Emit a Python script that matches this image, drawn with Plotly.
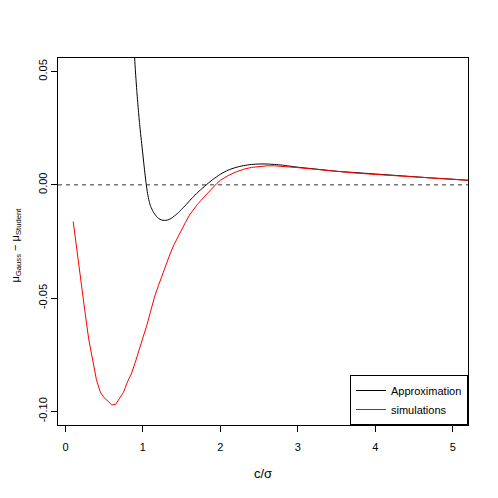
import plotly.graph_objects as go

# Approximation curve (black)
approx_x = [0.86, 0.88, 0.90, 0.92, 0.94, 0.96, 0.98, 1.00, 1.02, 1.04, 1.06, 1.08, 1.10,
            1.13, 1.16, 1.20, 1.24, 1.28, 1.32, 1.36, 1.40, 1.45, 1.50, 1.55, 1.60, 1.65,
            1.70, 1.75, 1.80, 1.90, 2.00, 2.10, 2.20, 2.30, 2.40, 2.50, 2.60, 2.70, 2.80,
            3.00, 3.25, 3.50, 3.75, 4.00, 4.25, 4.50, 4.75, 5.00, 5.20, 5.30]
approx_y = [0.078, 0.064, 0.052, 0.042, 0.0335, 0.026, 0.0195, 0.0132, 0.0069, 0.0010,
            -0.0038, -0.0072, -0.0095, -0.0117, -0.0133, -0.0148, -0.0155, -0.0157, -0.0155,
            -0.0149, -0.0139, -0.0125, -0.0108, -0.0090, -0.0071, -0.0053, -0.0036, -0.0020,
            -0.0005, 0.0023, 0.0047, 0.0065, 0.0077, 0.0085, 0.0090, 0.0092, 0.0092, 0.0090,
            0.0087, 0.0078, 0.0069, 0.0060, 0.0054, 0.0048, 0.0042, 0.0036, 0.0030, 0.0025,
            0.0020, 0.0018]

# Simulation curve (red)
sim_x = [0.10, 0.15, 0.20, 0.25, 0.30, 0.35, 0.40, 0.45, 0.50, 0.55, 0.60, 0.65, 0.70, 0.75,
         0.80, 0.85, 0.90, 0.95, 1.00, 1.05, 1.10, 1.15, 1.20, 1.25, 1.30, 1.35, 1.40, 1.45,
         1.50, 1.55, 1.60, 1.65, 1.70, 1.75, 1.80, 1.85, 1.90, 1.95, 2.00, 2.10, 2.20, 2.30,
         2.40, 2.50, 2.60, 2.70, 2.80, 3.00, 3.25, 3.50, 3.75, 4.00, 4.25, 4.50, 4.75, 5.00,
         5.20, 5.30]
sim_y = [-0.0162, -0.0300, -0.0430, -0.0555, -0.0680, -0.0775, -0.0860, -0.0915, -0.0940,
         -0.0955, -0.0972, -0.0968, -0.0942, -0.0915, -0.0870, -0.0835, -0.0785, -0.0735,
         -0.0675, -0.0620, -0.0555, -0.0495, -0.0445, -0.0395, -0.0350, -0.0305, -0.0265,
         -0.0230, -0.0197, -0.0165, -0.0134, -0.0110, -0.0088, -0.0068, -0.0049, -0.0032,
         -0.0012, 0.0005, 0.0020, 0.0041, 0.0057, 0.0069, 0.0077, 0.0082, 0.0084, 0.0084,
         0.0082, 0.0076, 0.0068, 0.0059, 0.0052, 0.0046, 0.0040, 0.0035, 0.0029, 0.0024,
         0.0020, 0.0018]

x_ticks = [0, 1, 2, 3, 4, 5]
y_ticks = [-0.10, -0.05, 0.00, 0.05]
y_tick_labels = ["-0.10", "-0.05", "0.00", "0.05"]

font = "Liberation Sans, Arial, Helvetica, sans-serif"

fig = go.Figure()
fig.add_trace(go.Scatter(x=approx_x, y=approx_y, mode="lines", name="Approximation",
                         line=dict(color="black", width=1, shape="spline", smoothing=0.6)))
fig.add_trace(go.Scatter(x=sim_x, y=sim_y, mode="lines", name="simulations",
                         line=dict(color="red", width=1)))

fig.add_shape(type="line", xref="paper", yref="y", x0=0, x1=1, y0=0, y1=0,
              line=dict(color="#333333", width=1, dash="4px,4px"))

fig.add_annotation(text="μ<sub>Gauss</sub> − μ<sub>Student</sub>",
                   xref="paper", yref="paper", x=0, y=0.5,
                   xanchor="center", yanchor="middle", textangle=-90,
                   xshift=-43, yshift=-4, showarrow=False,
                   font=dict(family=font, size=11, color="black"))

fig.update_layout(
    width=490, height=490,
    margin=dict(l=50, r=30, t=50, b=73, autoexpand=False),
    paper_bgcolor="white", plot_bgcolor="white",
    font=dict(family=font, size=11, color="black"),
    showlegend=True,
    legend=dict(x=1, y=0, xanchor="right", yanchor="bottom",
                bordercolor="black", borderwidth=1, bgcolor="white",
                font=dict(size=11), itemwidth=30, tracegroupgap=0),
    xaxis=dict(range=[-0.096, 5.196], tickvals=x_ticks, ticks="outside", ticklen=6,
               tickcolor="black", showline=True, linecolor="black", linewidth=1,
               mirror=True, showgrid=False, zeroline=False, automargin=False,
               ticklabelstandoff=6,
               title=dict(text="c/σ", standoff=16)),
    yaxis=dict(range=[-0.106, 0.056], tickvals=y_ticks, ticktext=y_tick_labels,
               tickangle=-90, ticks="outside", ticklen=6, tickcolor="black",
               showline=True, linecolor="black", linewidth=1, mirror=True,
               showgrid=False, zeroline=False, automargin=False),
)

fig.write_html("out.html")
